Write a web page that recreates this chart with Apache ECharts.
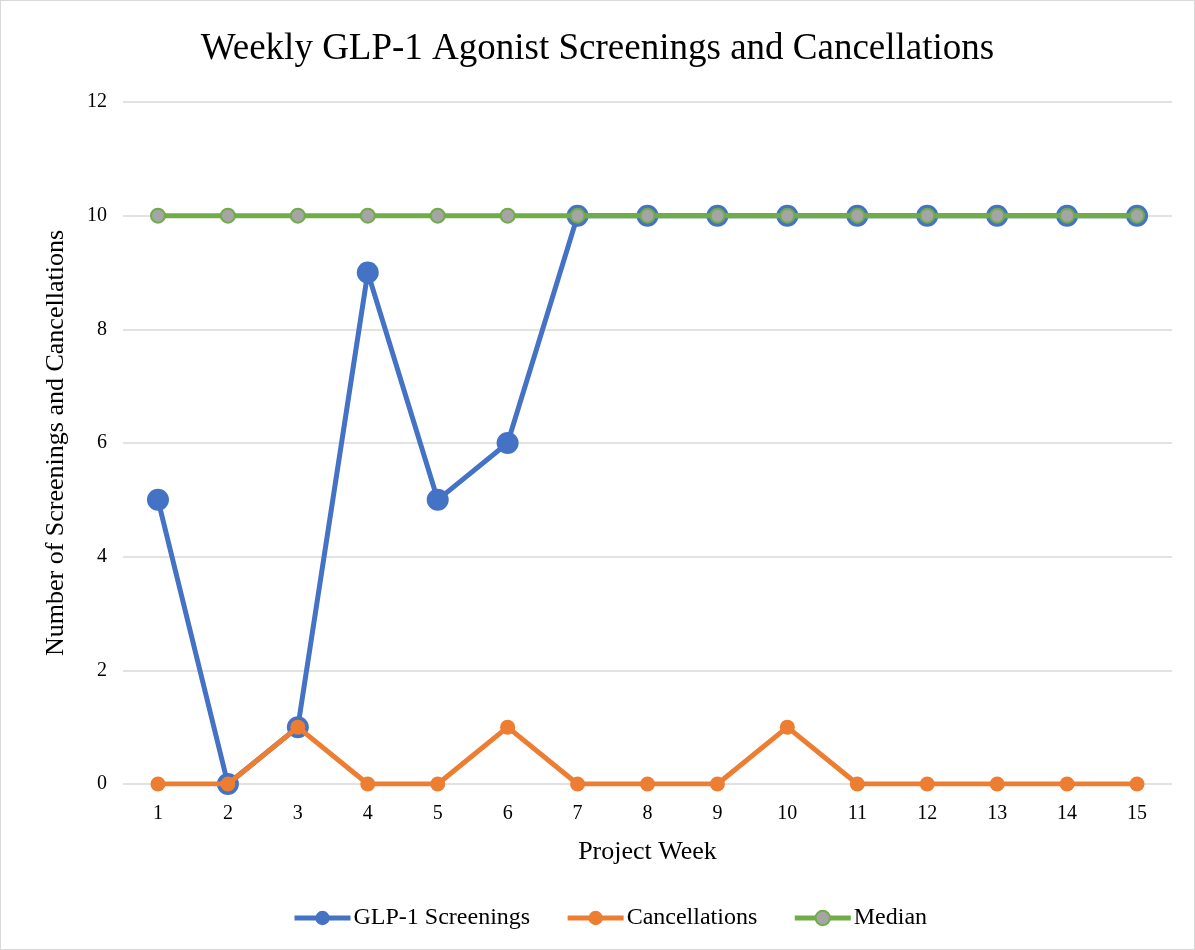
<!DOCTYPE html>
<html><head><meta charset="utf-8">
<script src="https://cdn.jsdelivr.net/npm/echarts@6/dist/echarts.min.js"></script>
<style>html,body{margin:0;padding:0;background:#fff}#c{width:1193px;height:948px;border:1px solid #d9d9d9}</style>
</head><body><div id="c"></div>
<script>
const weeks = ['1','2','3','4','5','6','7','8','9','10','11','12','13','14','15'];
const screenings = [5,0,1,9,5,6,10,10,10,10,10,10,10,10,10];
const cancellations = [0,0,1,0,0,1,0,0,0,1,0,0,0,0,0];
const median = [10,10,10,10,10,10,10,10,10,10,10,10,10,10,10];
const yTicks = [0,2,4,6,8,10,12];

const font = '"Liberation Serif", "Times New Roman", serif';
const chart = echarts.init(document.getElementById('c'));
chart.setOption({
  animation:false,
  title:{text:'Weekly GLP-1 Agonist Screenings and Cancellations',left:'center',top:25,
    textStyle:{fontFamily:font,fontSize:37,fontWeight:'normal',color:'#000'}},
  grid:{left:122,right:22,top:101,bottom:165},
  legend:{left:286,bottom:14,itemWidth:56,itemHeight:18,itemGap:35,
    lineStyle:{width:5},
    textStyle:{fontFamily:font,fontSize:24,color:'#000',padding:[0,0,0,-2]},
    data:['GLP-1 Screenings','Cancellations','Median']},
  xAxis:{type:'category',data:weeks,boundaryGap:true,
    name:'Project Week',nameLocation:'middle',nameGap:55,
    nameTextStyle:{fontFamily:font,fontSize:26,color:'#000'},
    axisLine:{show:false},axisTick:{show:false},
    axisLabel:{fontFamily:font,fontSize:20,color:'#000',margin:20}},
  yAxis:{type:'value',min:yTicks[0],max:yTicks[yTicks.length-1],interval:2,
    name:'Number of Screenings and Cancellations',nameLocation:'middle',nameGap:54,
    nameTextStyle:{fontFamily:font,fontSize:26,color:'#000'},
    axisLabel:{fontFamily:font,fontSize:20,color:'#000',margin:16},
    splitLine:{lineStyle:{color:'#d9d9d9',width:1.5}}},
  series:[
    {name:'GLP-1 Screenings',type:'line',data:screenings,symbol:'circle',symbolSize:22,
      lineStyle:{color:'#4472c4',width:5},itemStyle:{color:'#4472c4'},z:2},
    {name:'Cancellations',type:'line',data:cancellations,symbol:'circle',symbolSize:15,
      lineStyle:{color:'#ed7d31',width:5},itemStyle:{color:'#ed7d31'},z:3},
    {name:'Median',type:'line',data:median,symbol:'circle',symbolSize:14,
      lineStyle:{color:'#70ad47',width:5},itemStyle:{color:'#a5a5a5',borderColor:'#70ad47',borderWidth:2},z:4}
  ]
});
</script></body></html>
